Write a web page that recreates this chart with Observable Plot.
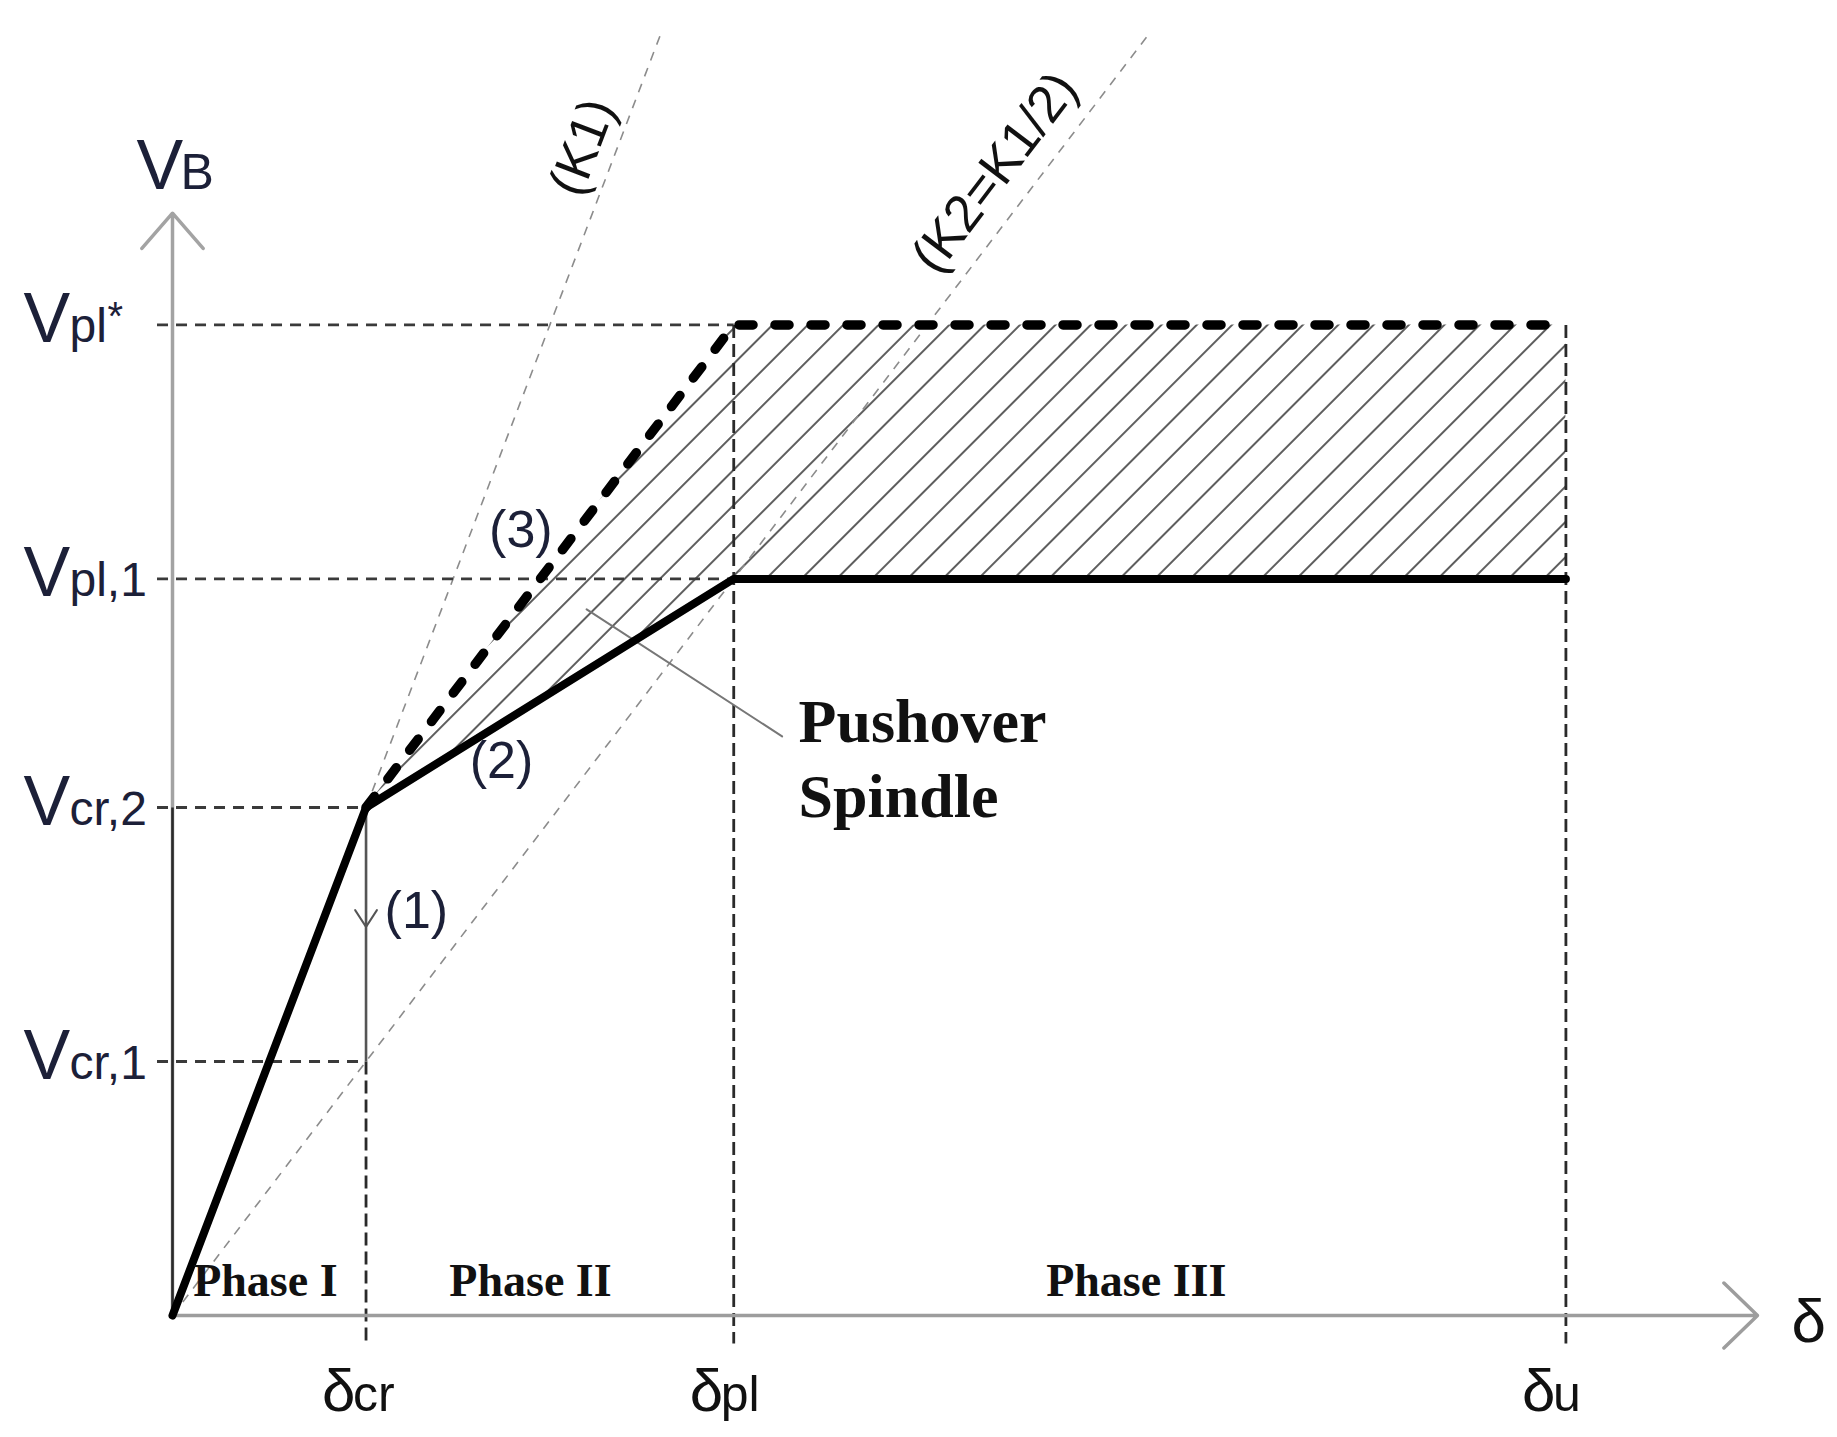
<!DOCTYPE html>
<html>
<head>
<meta charset="utf-8">
<script src="https://cdn.jsdelivr.net/npm/d3@7"></script>
<script src="https://cdn.jsdelivr.net/npm/@observablehq/plot@0.6"></script>
<style>
  html, body { margin: 0; padding: 0; background: #fff; }
  #chart svg { display: block; background: #fff; }
</style>
</head>
<body>
<div id="chart"></div>
<script>
// ---- data ----
const deltaNames  = ["cr", "pl", "u"];          // δcr, δpl, δu
const deltaValues = [1.0, 2.9, 7.2];
const vNames      = ["cr,1", "cr,2", "pl,1", "pl"];
const vSup        = ["", "", "", "*"];
const vValues     = [1.0, 2.0, 2.9, 3.9];       // Vcr,1  Vcr,2  Vpl,1  Vpl*
const vGuideEnd   = [1.0, 1.0, 2.9, 2.9];       // δ where each horizontal guide stops

const pushoverX = [0, 1.0, 2.9, 7.2];           // solid bold curve
const pushoverY = [0, 2.0, 2.9, 2.9];
const upperX    = [1.0, 2.9, 7.2];              // bold dashed curve
const upperY    = [2.0, 3.9, 3.9];

const vertGuideX   = [1.0, 2.9, 7.2];
const vertGuideTop = [1.0, 3.9, 3.9];

const stiffnessNames  = ["(K1)", "(K2=K1/2)"];
const stiffnessSlopes = [2, 1];
const stiffnessTop    = 5.05;
const stiffnessLabelX = [2.12, 4.25];
const stiffnessLabelY = [4.60, 4.50];

const phaseNames = ["Phase I", "Phase II", "Phase III"];
const phaseX     = [0.48, 1.85, 4.98];

const markerNames = ["(1)", "(2)", "(3)"];
const markerX     = [1.26, 1.70, 1.80];
const markerY     = [1.59, 2.18, 3.09];

const unloadTip = 1.53;                          // arrow (1) on δcr
const axisEndX  = [8.19];
const axisEndY  = [4.34];

const leaderX = [2.14, 3.15];
const leaderY = [2.78, 2.28];
const spindleX = [3.235];
const spindleY = [2.468];

// ---- derived tables ----
const pushover = pushoverX.map((x, i) => ({x, y: pushoverY[i]}));
const upper = upperX.map((x, i) => ({x, y: upperY[i]}));
const band = upperX.map((x, i) => ({x, lo: pushoverY[i + 1], hi: upperY[i]}));
const kLines = stiffnessSlopes.map((s, i) => ({x1: 0, y1: 0, x2: stiffnessTop / s, y2: stiffnessTop, name: stiffnessNames[i]}));
const hGuides = vValues.map((v, i) => ({y: v, x2: vGuideEnd[i]}));
const vGuides = vertGuideX.map((x, i) => ({x, top: vertGuideTop[i]}));
const vTicks = vValues.map((v, i) => ({y: v, sub: vNames[i], sup: vSup[i]}));
const dTicks = deltaValues.map((d, i) => ({x: d, sub: deltaNames[i]}));

const sans = "'Liberation Sans', Arial, sans-serif";
const serif = "'Liberation Serif', 'Times New Roman', serif";
const labelInk = "#1c2038";

const chart = Plot.plot({
  width: 1837,
  height: 1437,
  marginLeft: 172,
  marginRight: 20,
  marginTop: 0,
  marginBottom: 122,
  x: {domain: [0, 8.5], axis: null},
  y: {domain: [0, 1315 / 254], axis: null},
  marks: [
    // hatched spindle
    Plot.areaY(band, {x: "x", y1: "lo", y2: "hi", fill: "url(#hatch)", stroke: "none"}),
    // stiffness reference lines
    Plot.link(kLines, {x1: "x1", y1: "y1", x2: "x2", y2: "y2", stroke: "#8c8c8c", strokeWidth: 1.6, strokeDasharray: "9,8"}),
    // horizontal guides
    Plot.link(hGuides, {x1: -0.08, x2: "x2", y1: "y", y2: "y", stroke: "#3a3a3a", strokeWidth: 2.8, strokeDasharray: "11,8"}),
    // vertical guides
    Plot.link(vGuides, {x1: "x", x2: "x", y1: "top", y2: -0.11, stroke: "#2a2a2a", strokeWidth: 2.8, strokeDasharray: "13,6"}),
    // axes with open arrowheads
    Plot.arrow(axisEndX, {x1: 0, y1: 0, x2: d => d, y2: 0, stroke: "#9d9d9d", strokeWidth: 3.5, headLength: 20, headAngle: 88}),
    Plot.arrow(axisEndY, {x1: 0, y1: 0, x2: 0, y2: d => d, stroke: "#a3a3a3", strokeWidth: 3.5, headLength: 20, headAngle: 82}),
    Plot.link([vValues[1]], {x1: 0, x2: 0, y1: 0, y2: d => d, stroke: "#2a2a2a", strokeWidth: 2.6}),
    // unloading (1)
    Plot.link([vValues[0]], {x1: deltaValues[0], x2: deltaValues[0], y1: d => d, y2: vValues[1], stroke: "#555", strokeWidth: 2.6}),
    Plot.arrow([unloadTip], {x1: deltaValues[0], x2: deltaValues[0], y1: vValues[1], y2: d => d, stroke: "#555", strokeWidth: 2, headLength: 15, headAngle: 66}),
    // leader to "Pushover Spindle"
    Plot.line(leaderX.map((x, i) => ({x, y: leaderY[i]})), {x: "x", y: "y", stroke: "#777", strokeWidth: 2}),
    // bold curves
    Plot.line(upper, {x: "x", y: "y", stroke: "#000", strokeWidth: 9.5, strokeDasharray: "14,22", strokeLinecap: "round", strokeLinejoin: "round"}),
    Plot.line(pushover, {x: "x", y: "y", stroke: "#000", strokeWidth: 8, strokeLinejoin: "round"}),

    // y tick labels V_sub
    Plot.text(vTicks, {y: "y", text: () => "V", frameAnchor: "left", dx: -149, dy: 17, textAnchor: "start", lineAnchor: "bottom", fontSize: 70, fontFamily: sans, fill: labelInk}),
    Plot.text(vTicks, {y: "y", text: "sub", frameAnchor: "left", dx: -103, dy: 17, textAnchor: "start", lineAnchor: "bottom", fontSize: 48, fontFamily: sans, fill: labelInk}),
    Plot.text(vTicks, {y: "y", text: "sup", frameAnchor: "left", dx: -65, dy: 5, textAnchor: "start", lineAnchor: "bottom", fontSize: 40, fontFamily: sans, fill: labelInk}),
    // V_B
    Plot.text(axisEndY, {x: 0, y: d => d, text: () => "V", dx: -36, dy: -24, textAnchor: "start", lineAnchor: "bottom", fontSize: 70, fontFamily: sans, fill: labelInk}),
    Plot.text(axisEndY, {x: 0, y: d => d, text: () => "B", dx: 8, dy: -24, textAnchor: "start", lineAnchor: "bottom", fontSize: 50, fontFamily: sans, fill: labelInk}),
    // x tick labels δ_sub
    Plot.text(dTicks, {x: "x", y: 0, text: () => "δ", dx: -44, dy: 95, textAnchor: "start", lineAnchor: "bottom", fontSize: 60, fontFamily: sans, fill: "#111"}),
    Plot.text(dTicks, {x: "x", y: 0, text: "sub", dx: -13, dy: 95, textAnchor: "start", lineAnchor: "bottom", fontSize: 50, fontFamily: sans, fill: "#111"}),
    Plot.text(axisEndX, {x: d => d, y: 0, text: () => "δ", dx: 34, dy: 26, textAnchor: "start", lineAnchor: "bottom", fontSize: 62, fontFamily: sans, fill: "#111"}),
    // phases
    Plot.text(phaseNames, {x: (d, i) => phaseX[i], y: 0, text: d => d, dy: -20, textAnchor: "middle", lineAnchor: "bottom", fontSize: 46, fontWeight: "bold", fontFamily: serif, fill: "#111"}),
    // (1)(2)(3)
    Plot.text(markerNames, {x: (d, i) => markerX[i], y: (d, i) => markerY[i], text: d => d, textAnchor: "middle", lineAnchor: "middle", fontSize: 52, fontFamily: sans, fill: labelInk}),
    // stiffness labels
    Plot.text(kLines, {x: (d, i) => stiffnessLabelX[i], y: (d, i) => stiffnessLabelY[i], text: "name",
      rotate: d => -Math.atan((d.y2 / d.x2) * 254 / 193.5) * 180 / Math.PI,
      textAnchor: "middle", lineAnchor: "middle", fontSize: 52, fontFamily: sans, fill: "#111"}),
    // Pushover Spindle
    Plot.text(spindleX, {x: d => d, y: (d, i) => spindleY[i], text: () => "Pushover\nSpindle", textAnchor: "start", lineAnchor: "top", lineHeight: 1.21, fontSize: 62, fontWeight: "bold", fontFamily: serif, fill: "#111"})
  ]
});

// hatch pattern definition
const defs = d3.select(chart).insert("defs", ":first-child");
const pat = defs.append("pattern")
  .attr("id", "hatch")
  .attr("patternUnits", "userSpaceOnUse")
  .attr("width", 25)
  .attr("height", 25)
  .attr("patternTransform", "rotate(45)");
pat.append("line")
  .attr("x1", 1).attr("y1", 0).attr("x2", 1).attr("y2", 25)
  .attr("stroke", "#5e5e5e").attr("stroke-width", 2);

document.getElementById("chart").appendChild(chart);
</script>
</body>
</html>
